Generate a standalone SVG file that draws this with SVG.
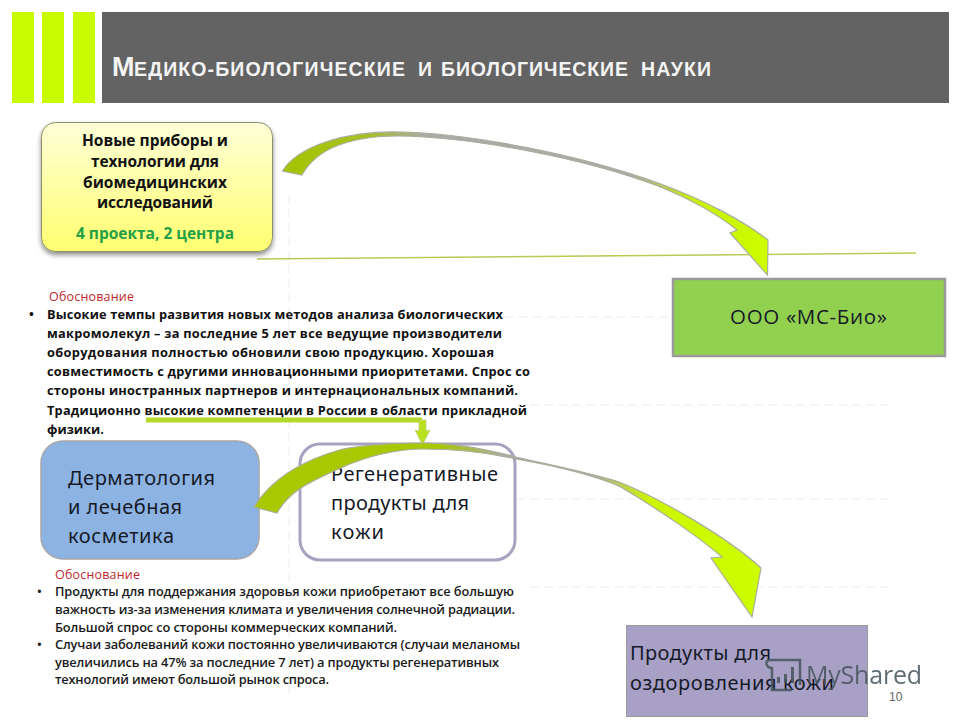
<svg xmlns="http://www.w3.org/2000/svg" width="960" height="720" viewBox="0 0 960 720">
<style>
text{font-family:"Open Sans","Noto Sans","Liberation Sans",sans-serif}
.b{font-size:12.800px;font-weight:700;fill:#111}
.m{font-size:12.800px;font-weight:600;fill:#1a1a1a}
.r{font-size:12.500px;fill:#c0272d}
.y{font-size:15.500px;font-weight:700;fill:#111;text-anchor:middle}
.n{font-size:20px;fill:#151a28;font-family:"Noto Sans","Open Sans",sans-serif}
.g{stroke:#ececec;stroke-width:1;stroke-dasharray:9 5;fill:none}
.arrow{stroke:#a9ad9c;stroke-width:1.2;stroke-linejoin:miter}
.t{font-family:"Liberation Sans",Arial,sans-serif;font-weight:700;font-size:19.500px;fill:#f4f4f4}
</style>
<defs>
<linearGradient id="yg" x1="0" y1="0" x2="0" y2="1"><stop offset="0" stop-color="#ffffd8"/><stop offset="1" stop-color="#ffff70"/></linearGradient>
<linearGradient id="a1" gradientUnits="userSpaceOnUse" x1="282" y1="0" x2="768" y2="0"><stop offset="0" stop-color="#a4c400"/><stop offset=".17" stop-color="#a8c020"/><stop offset=".3" stop-color="#aaaaaa"/><stop offset=".72" stop-color="#aaaaaa"/><stop offset=".85" stop-color="#c8f000"/><stop offset="1" stop-color="#ccff00"/></linearGradient>
<linearGradient id="a2" gradientUnits="userSpaceOnUse" x1="254" y1="0" x2="762" y2="0"><stop offset="0" stop-color="#a8c800"/><stop offset=".36" stop-color="#a8c800"/><stop offset=".5" stop-color="#aaaaaa"/><stop offset=".66" stop-color="#aaaaaa"/><stop offset=".78" stop-color="#ccf500"/><stop offset="1" stop-color="#ccff00"/></linearGradient>
<filter id="sh" x="-10%" y="-10%" width="120%" height="125%"><feDropShadow dx="0" dy="3" stdDeviation="2.500" flood-color="#000" flood-opacity=".45"/></filter>
</defs>

<g id="guides">
<path class="g" d="M289 195V700M505 317H672M530 405H888M516 499H888M530 587H888"/>
<path d="M257 259L916 253" stroke="#b9cb55" stroke-width="1.500" fill="none"/>
</g>

<g id="header">
<rect x="12" y="12" width="22" height="91" fill="#c8fa00"/>
<rect x="42" y="12" width="22" height="91" fill="#c8fa00"/>
<rect x="73" y="12" width="22" height="91" fill="#c8fa00"/>
<rect x="102" y="12" width="847" height="91" fill="#636363"/>
<text class="t" y="76"><tspan x="112" font-size="27">М</tspan><tspan x="134" textLength="271">ЕДИКО-БИОЛОГИЧЕСКИЕ</tspan><tspan x="418">И</tspan><tspan x="441" textLength="187">БИОЛОГИЧЕСКИЕ</tspan><tspan x="641" textLength="70">НАУКИ</tspan></text>
</g>

<g id="node-devices">
<rect x="41.500" y="122.500" width="231" height="129" rx="14" fill="url(#yg)" stroke="#8d8d6a" filter="url(#sh)"/>
<text class="y" x="155" y="146" textLength="146">Новые приборы и</text>
<text class="y" x="155" y="167" textLength="128">технологии для</text>
<text class="y" x="155" y="188" textLength="144">биомедицинских</text>
<text class="y" x="155" y="208" textLength="116">исследований</text>
<text class="y" x="155" y="239" textLength="158" style="fill:#23a044">4 проекта, 2 центра</text>
</g>

<g id="node-mcbio">
<rect x="673" y="279" width="272" height="77" fill="#92d050" stroke="#9a9a9a" stroke-width="2.500"/>
<text x="730" y="324" textLength="157" style="font-size:20.500px;fill:#151a28">ООО «МС-Био»</text>
</g>

<g id="rationale-1">
<text class="r" x="49" y="301" textLength="85">Обоснование</text>
<text class="b" x="29" y="319">•</text>
<text class="b" x="47" y="319" textLength="456">Высокие темпы развития новых методов анализа биологических</text>
<text class="b" x="47" y="338" textLength="455">макромолекул – за последние 5 лет все ведущие производители</text>
<text class="b" x="47" y="357" textLength="447">оборудования полностью обновили свою продукцию. Хорошая</text>
<text class="b" x="47" y="376" textLength="483">совместимость с другими инновационными приоритетами. Спрос со</text>
<text class="b" x="47" y="395" textLength="471">стороны иностранных партнеров и интернациональных компаний.</text>
<text class="b" x="47" y="415" textLength="480">Традиционно высокие компетенции в России в области прикладной</text>
<text class="b" x="47" y="434" textLength="57">физики.</text>
</g>

<g id="node-derma">
<rect x="41" y="441" width="218" height="118" rx="22" fill="#8db3e2" stroke="#a6a6a6" stroke-width="1.500"/>
<text class="n" x="68" y="485" textLength="147">Дерматология</text>
<text class="n" x="68" y="514" textLength="114">и лечебная</text>
<text class="n" x="68" y="543" textLength="106">косметика</text>
</g>

<g id="node-regen">
<rect x="300" y="444" width="215" height="116" rx="20" fill="#fff" stroke="#a6a3c0" stroke-width="3"/>
<text class="n" x="331" y="481" textLength="167">Регенеративные</text>
<text class="n" x="331" y="510" textLength="138">продукты для</text>
<text class="n" x="331" y="539" textLength="53">кожи</text>
</g>

<g id="connectors">
<path class="arrow" fill="url(#a1)" d="M282.500 171C298 146 345 131 399 132C470 133 580 155 658 183C705 200 745 222 768 240L767.500 275L730 233L737 230C715 212 690 199 658 186C580 157 470 137 399 136C355 136 318 146 302 175Z"/>
<path d="M146 420H422" stroke="#b5d92a" stroke-width="5" fill="none"/>
<path d="M419 420H426V431L430 430L422.500 445L415 430L419 431Z" fill="#b8e01e" stroke="#c3d27a" stroke-width=".8"/>
<path class="arrow" fill="url(#a2)" d="M254 507C270 481 299 461 343 449C370 444 400 443 423 443C455 443 490 450 516 457C555 466 590 473 619 482C655 496 725 535 761 568L752 617L711 558L722 557C700 538 660 510 619 486C590 474 550 465 516 459C490 453 455 449 423 449C395 449 365 457 343 467C310 482 290 490 277 513Z"/>
</g>

<g id="rationale-2">
<text class="r" x="55" y="579" textLength="85">Обоснование</text>
<text class="m" x="37" y="596">•</text>
<text class="m" x="55" y="596" textLength="459">Продукты для поддержания здоровья кожи приобретают все большую</text>
<text class="m" x="55" y="614" textLength="460">важность из-за изменения климата и увеличения солнечной радиации.</text>
<text class="m" x="55" y="632" textLength="342">Большой спрос со стороны коммерческих компаний.</text>
<text class="m" x="37" y="649">•</text>
<text class="m" x="55" y="649" textLength="465">Случаи заболеваний кожи постоянно увеличиваются (случаи меланомы</text>
<text class="m" x="55" y="667" textLength="444">увеличились на 47% за последние 7 лет) а продукты регенеративных</text>
<text class="m" x="55" y="684" textLength="274">технологий имеют большой рынок спроса.</text>
</g>

<g id="node-products">
<rect x="626.500" y="625.500" width="241" height="91" fill="#a9a0c6" stroke="#9a9a9a"/>
<text class="n" x="630" y="660" textLength="141">Продукты для</text>
<text class="n" x="630" y="690" textLength="204">оздоровления кожи</text>
</g>

<g id="watermark" opacity=".85">
<path d="M770 660H800V685M770 660C764 660 766 668 772 668V690H792" fill="none" stroke="#46545c" stroke-width="2.500"/>
<path d="M777 677h3v6h-3zM784 674h3v9h-3zM791 667h3v16h-3z" fill="#46545c"/>
<text x="806" y="684" textLength="116" style="font-size:25px;fill:#46545c">MyShared</text>
</g>
<text x="889" y="701" style="font-family:'Liberation Sans',sans-serif;font-size:12px;fill:#666">10</text>
</svg>
